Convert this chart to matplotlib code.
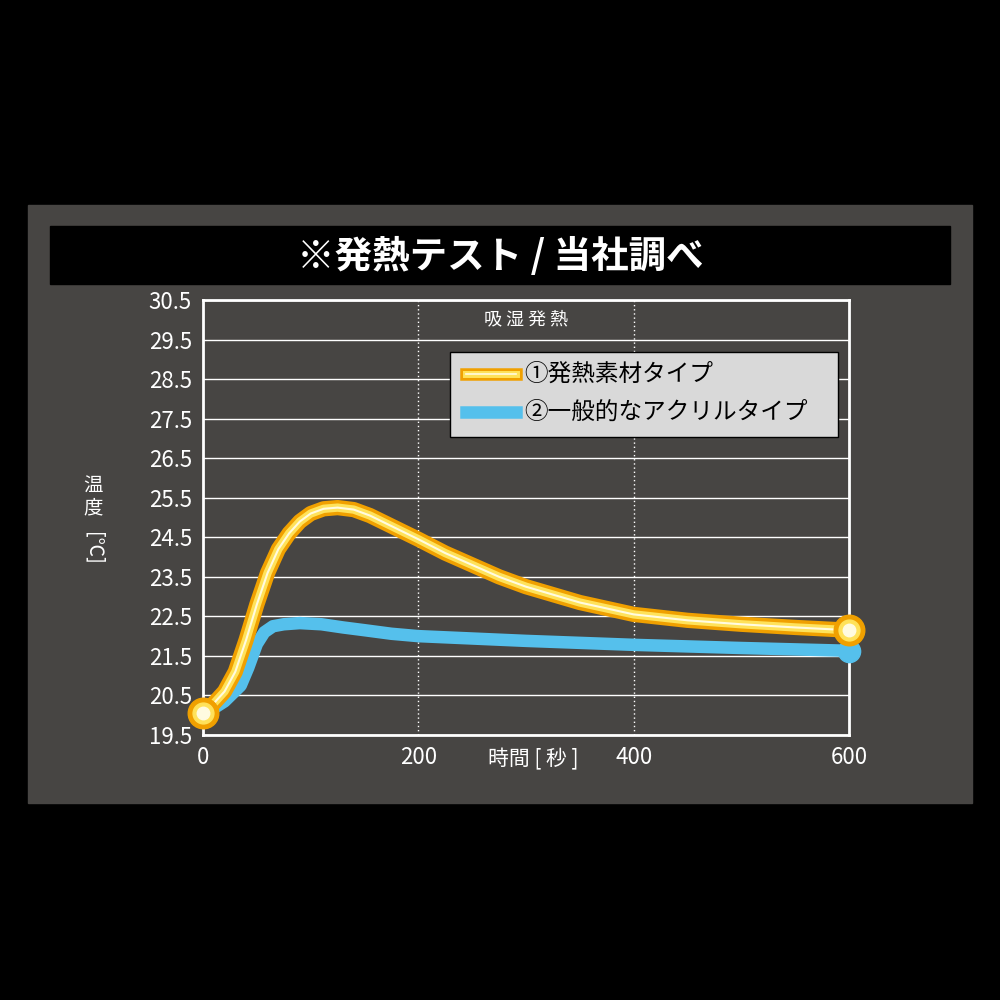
import matplotlib
matplotlib.use("Agg")
import matplotlib.pyplot as plt
from matplotlib.patches import Rectangle
import numpy as np

plt.rcParams['font.family'] = ['Noto Sans CJK JP', 'DejaVu Sans']

t_hot = [0, 10, 20, 30, 40, 50, 60, 70, 80, 90, 100, 112, 125, 140, 155, 170, 185, 200, 225, 250, 275, 300, 350, 400, 450, 500, 550, 600]
v_hot = [20.05, 20.3, 20.6, 21.1, 21.9, 22.8, 23.6, 24.2, 24.6, 24.9, 25.1, 25.22, 25.25, 25.2, 25.05, 24.85, 24.65, 24.45, 24.1, 23.8, 23.5, 23.25, 22.85, 22.55, 22.4, 22.3, 22.22, 22.15]
t_acr = [0, 20, 35, 42, 50, 57, 65, 75, 90, 110, 130, 150, 175, 200, 300, 400, 500, 600]
v_acr = [20.0, 20.35, 20.75, 21.2, 21.8, 22.1, 22.25, 22.3, 22.33, 22.3, 22.22, 22.15, 22.06, 22.0, 21.88, 21.78, 21.7, 21.63]
yticks = [19.5, 20.5, 21.5, 22.5, 23.5, 24.5, 25.5, 26.5, 27.5, 28.5, 29.5, 30.5]
xticks = [0, 200, 400, 600]

fig = plt.figure(figsize=(10, 10), dpi=100, facecolor='black')
bg = fig.add_axes([0, 0, 1, 1]); bg.set_xlim(0, 1000); bg.set_ylim(1000, 0); bg.axis('off')
bg.add_patch(Rectangle((28, 205), 944, 598, color='#474543'))
bg.add_patch(Rectangle((50, 226), 900, 58, color='black'))
bg.text(500, 256, '※発熱テスト / 当社調べ', color='white', fontsize=27, fontweight='bold', ha='center', va='center')
bg.text(93, 497, '温\n度', color='white', fontsize=14, ha='center', va='center', linespacing=1.0)
bg.text(93, 548, '[℃]', color='white', fontsize=14, ha='center', va='center', rotation=-90)
bg.text(533, 759, '時間 [ 秒 ]', color='white', fontsize=15, ha='center', va='center')

ax = fig.add_axes([0.203, 0.265, 0.646, 0.435])
ax.set_facecolor('#474543')
ax.set_xlim(0, 600); ax.set_ylim(19.5, 30.5)
for s in ax.spines.values():
    s.set_color('white'); s.set_linewidth(2)
for y in yticks:
    ax.axhline(y, color='white', lw=1, zorder=1)
for x in [200, 400]:
    ax.axvline(x, color='white', lw=1, ls=(0, (1, 2)), zorder=1)
ax.set_yticks(yticks); ax.set_yticklabels([f'{y:.1f}' for y in yticks])
ax.set_xticks(xticks); ax.set_xticklabels([str(x) for x in xticks])
ax.tick_params(colors='white', labelsize=16, length=0, pad=8)

ax.plot(t_acr, v_acr, color='#55c0ec', lw=9, solid_capstyle='round', solid_joinstyle='round', zorder=3, clip_on=False)
ax.plot(t_acr[-1], v_acr[-1], 'o', ms=16, color='#55c0ec', zorder=3, clip_on=False)
ax.plot(t_hot, v_hot, color='#f0a000', lw=11, solid_capstyle='round', solid_joinstyle='round', zorder=4, clip_on=False)
ax.plot(t_hot, v_hot, color='#ffe25a', lw=6, solid_joinstyle='round', zorder=5, clip_on=False)
ax.plot(t_hot, v_hot, color='#fffbe0', lw=1.5, zorder=6, clip_on=False)
for i in [0, -1]:
    ax.plot(t_hot[i], v_hot[i], 'o', ms=22, color='#f0a000', zorder=7, clip_on=False)
    ax.plot(t_hot[i], v_hot[i], 'o', ms=15, color='#ffe25a', zorder=8, clip_on=False)
    ax.plot(t_hot[i], v_hot[i], 'o', ms=9, color='#fffbe0', zorder=9, clip_on=False)

ax.text(300, 30.0, '吸 湿 発 熱', color='white', fontsize=13, ha='center', va='center')

lg = fig.add_axes([0, 0, 1, 1]); lg.set_xlim(0, 1000); lg.set_ylim(1000, 0); lg.axis('off')
lg.patch.set_alpha(0)
lg.add_patch(Rectangle((450, 352), 388, 85, facecolor='#d9d9d9', edgecolor='black', lw=1, zorder=5))
lg.plot([466, 516], [374, 374], color='#f0a000', lw=9, zorder=6)
lg.plot([466, 516], [374, 374], color='#ffe25a', lw=5, zorder=7)
lg.plot([466, 516], [374, 374], color='#fffbe0', lw=1.2, zorder=8)
lg.plot([466, 516], [412, 412], color='#55c0ec', lw=9, zorder=6)
lg.text(524, 374, '①発熱素材タイプ', fontsize=17, color='black', va='center', zorder=9)
lg.text(524, 412, '②一般的なアクリルタイプ', fontsize=17, color='black', va='center', zorder=9)

fig.savefig('out.png', dpi=100, facecolor='black')
